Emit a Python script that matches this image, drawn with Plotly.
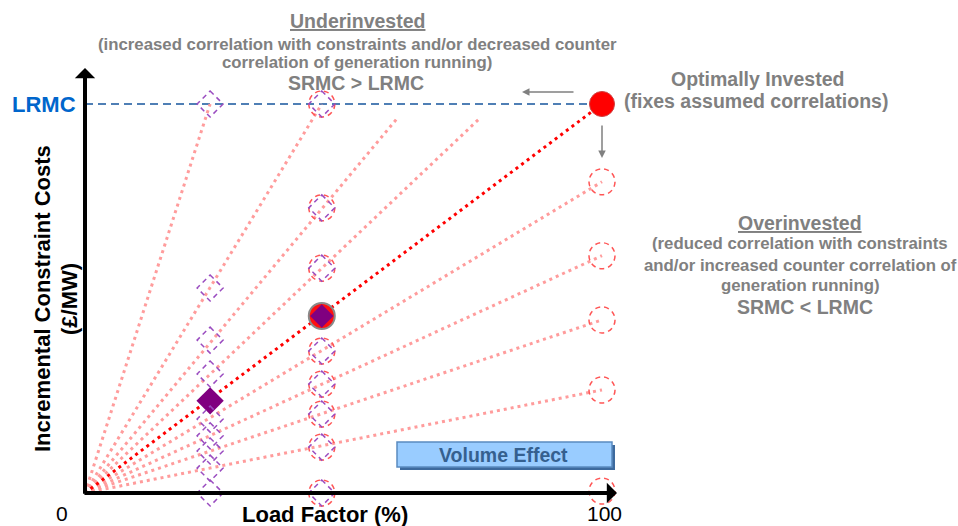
import plotly.graph_objects as go

# ---------------- data ----------------
LRMC = 100
x_low, x_mid, x_high = 24.2, 45.8, 100

# ray end points (all rays start at the origin)
ray_end_x = [24.2, 45.8, 60.5, 76.5, 100, 100, 100, 100]
ray_end_y = [100, 100, 96.5, 96.5, 80, 61, 44.5, 26.5]
optimal_end = (100, 100)

# dashed (hypothetical) diamonds on the low load factor line
low_diamond_y = [100, 52.7, 39.3, 30.6, 19.0, 14.7, 10.8, 6.4, 0]
low_filled_y = 23.7
# dashed circles + diamonds on the mid load factor line
mid_marker_y = [100, 73.3, 57.8, 36.5, 28.0, 20.3, 11.8, 0]
mid_filled_y = 45.5
# dashed circles on the 100% load factor line
high_circle_y = [80, 61, 44.5, 26.5, 0.5]
high_filled_y = 100

# ---------------- geometry helpers ----------------
W, H = 958, 526
X0PX, X100PX = 85, 602
Y0PX, Y100PX = 493, 104
sx = (X100PX - X0PX) / 100.0
sy = (Y0PX - Y100PX) / 100.0
xr = [-X0PX / sx, (W - X0PX) / sx]
yr = [-(H - Y0PX) / sy, Y0PX / sy]

def px(x):
    return x / W

def py(y):
    return 1 - y / H

FONT = "Liberation Sans, Arial, sans-serif"
GRAY = "#808080"

fig = go.Figure()

# pink rays
rx, ry = [], []
for ex, ey in zip(ray_end_x, ray_end_y):
    rx += [0, ex, None]
    ry += [0, ey, None]
fig.add_trace(go.Scatter(x=rx, y=ry, mode="lines", hoverinfo="skip",
                         line=dict(color="#ff9c9c", width=3, dash="3px,4px")))
# optimal ray
fig.add_trace(go.Scatter(x=[0, optimal_end[0]], y=[0, optimal_end[1]], mode="lines",
                         hoverinfo="skip",
                         line=dict(color="#ff0000", width=3, dash="3px,4px")))

# filled markers
fig.add_trace(go.Scatter(x=[x_high], y=[high_filled_y], mode="markers",
                         marker=dict(symbol="circle", size=25, color="#ff0000",
                                     line=dict(color="#d04040", width=1))))
fig.add_trace(go.Scatter(x=[x_mid], y=[mid_filled_y], mode="markers",
                         marker=dict(symbol="circle", size=26, color="#ff1010",
                                     line=dict(color="#8a8a8a", width=2))))
fig.add_trace(go.Scatter(x=[x_mid], y=[mid_filled_y], mode="markers",
                         marker=dict(symbol="diamond", size=18, color="#800080",
                                     line=dict(width=0))))
fig.add_trace(go.Scatter(x=[x_low], y=[low_filled_y], mode="markers",
                         marker=dict(symbol="diamond", size=21, color="#800080",
                                     line=dict(width=0))))

shapes = []
# LRMC dashed line
shapes.append(dict(type="line", xref="x", yref="y", x0=0, x1=x_high, y0=LRMC, y1=LRMC,
                   line=dict(color="#4f7fb5", width=1.8, dash="8px,5px"), layer="below"))

R = 13
CIRC = dict(color="#ff5555", width=1.5, dash="5px,4px")
DIAM = dict(color="#9a4cc0", width=1.5, dash="5px,4px")
diamond_path = f"M0,{R} L{R},0 L0,-{R} L-{R},0 Z"

def circle(xa, ya):
    return dict(type="circle", xref="x", yref="y", xsizemode="pixel", ysizemode="pixel",
                xanchor=xa, yanchor=ya, x0=-R, x1=R, y0=-R, y1=R, line=CIRC)

def diamond(xa, ya):
    return dict(type="path", xref="x", yref="y", xsizemode="pixel", ysizemode="pixel",
                xanchor=xa, yanchor=ya, path=diamond_path, line=DIAM)

for y in mid_marker_y:
    shapes.append(circle(x_mid, y))
    shapes.append(diamond(x_mid, y))
for y in high_circle_y:
    shapes.append(circle(x_high, y))
for y in low_diamond_y:
    shapes.append(diamond(x_low, y))

# Volume Effect box (pixel layout)
bx0, bx1, by0, by1 = 397, 612, 442, 467
shapes.append(dict(type="rect", xref="paper", yref="paper",
                   x0=px(bx0 + 3), x1=px(bx1 + 3), y0=py(by0 + 3), y1=py(by1 + 3),
                   fillcolor="#3d6a9e", line=dict(width=0)))
shapes.append(dict(type="rect", xref="paper", yref="paper",
                   x0=px(bx0), x1=px(bx1), y0=py(by0), y1=py(by1),
                   fillcolor="#99ccff", line=dict(color="#5a8ac0", width=1.5)))

ann = []

def text(t, x, y, size, color=GRAY, bold=True, xanchor="center", angle=0):
    ann.append(dict(text=f"<b>{t}</b>" if bold else t, x=px(x), y=py(y), xref="paper",
                    yref="paper", showarrow=False, xanchor=xanchor, yanchor="middle",
                    textangle=angle, font=dict(family=FONT, size=size, color=color)))

# axes arrows
ann.append(dict(x=0, y=(Y0PX - 68) / sy, ax=0, ay=-0.6, xref="x", yref="y", axref="x",
                ayref="y", text="", showarrow=True, arrowhead=1, arrowsize=0.85,
                arrowwidth=4, arrowcolor="black", standoff=0, startstandoff=0))
ann.append(dict(x=(617 - X0PX) / sx, y=0, ax=-0.4, ay=0, xref="x", yref="y", axref="x",
                ayref="y", text="", showarrow=True, arrowhead=1, arrowsize=0.85,
                arrowwidth=4, arrowcolor="black", standoff=0, startstandoff=0))
# small gray arrows
ann.append(dict(x=(522 - X0PX) / sx, y=(Y0PX - 92) / sy, ax=(575 - X0PX) / sx,
                ay=(Y0PX - 92) / sy, xref="x", yref="y", axref="x", ayref="y", text="",
                showarrow=True, arrowhead=2, arrowsize=1, arrowwidth=1.5,
                arrowcolor=GRAY, standoff=0))
ann.append(dict(x=x_high, y=(Y0PX - 158) / sy, ax=x_high, ay=(Y0PX - 124) / sy,
                xref="x", yref="y", axref="x", ayref="y", text="",
                showarrow=True, arrowhead=2, arrowsize=1, arrowwidth=1.5,
                arrowcolor=GRAY, standoff=0))

# texts
text("<u>Underinvested</u>", 357, 21, 19.5)
text("(increased correlation with constraints and/or decreased counter", 357, 44, 16.8)
text("correlation of generation running)", 357, 63, 16.8)
text("SRMC &gt; LRMC", 356, 83, 19.5)
text("Optimally Invested", 757, 79, 19.5)
text("(fixes assumed correlations)", 756, 101, 19.5)
text("<u>Overinvested</u>", 800, 223, 19.5)
text("(reduced correlation with constraints", 800, 244, 16.8)
text("and/or increased counter correlation of", 800, 265, 16.8)
text("generation running)", 800, 285, 16.8)
text("SRMC &lt; LRMC", 805, 307, 19.5)
text("Volume Effect", 503, 455, 19.5, color="#35608f")
text("LRMC", 78, 104, 22, color="#0066cc", xanchor="right")
text("Incremental Constraint Costs", 42, 299, 22, color="black", angle=-90)
text("(£/MW)", 69, 299, 22, color="black", angle=-90)
text("Load Factor (%)", 325, 514, 22, color="black")
text("0", 62, 513, 21, color="black", bold=False)
text("100", 604, 513, 21, color="black", bold=False)

fig.update_layout(
    width=W, height=H, margin=dict(l=0, r=0, t=0, b=0),
    paper_bgcolor="white", plot_bgcolor="white", showlegend=False,
    xaxis=dict(range=xr, visible=False, fixedrange=True),
    yaxis=dict(range=yr, visible=False, fixedrange=True),
    shapes=shapes, annotations=ann,
)

fig.write_html("out.html", config={"displayModeBar": False},
               post_script="document.body.style.margin='0';document.body.style.overflow='hidden';")
